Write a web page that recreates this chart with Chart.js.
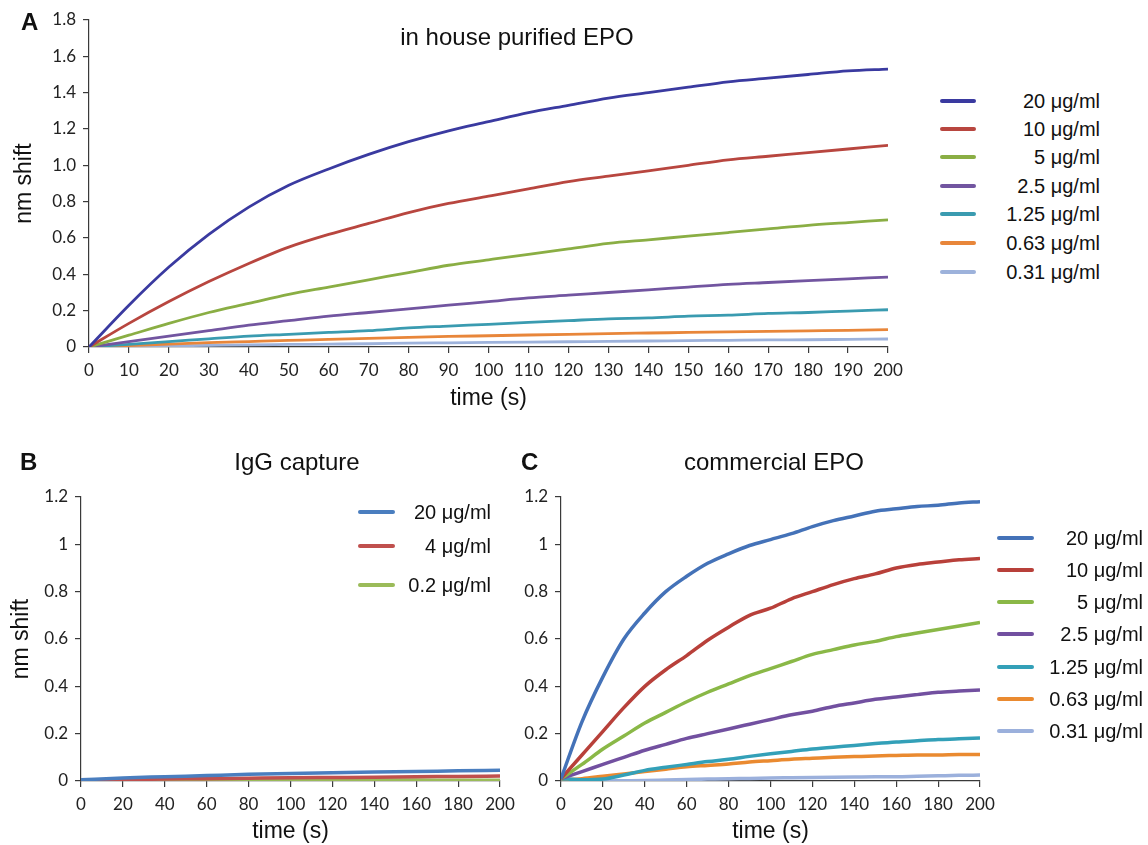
<!DOCTYPE html>
<html>
<head>
<meta charset="utf-8">
<script src="https://cdn.jsdelivr.net/npm/chart.js@4"></script>
<style>
  html,body{margin:0;padding:0;background:#fff;}
  body{width:1148px;height:845px;position:relative;overflow:hidden;font-family:"Liberation Sans",Arial,sans-serif;color:#111;}
  canvas{position:absolute;}
  .txt{position:absolute;white-space:nowrap;line-height:1;}
  .letter{font-weight:bold;font-size:24px;}
  .ttl{font-size:24px;transform:translate(-50%,-50%);}
  .leg{position:absolute;}
  .leg .row{position:absolute;left:0;right:0;height:24px;}
  .leg .ln{position:absolute;left:0;top:50%;border-radius:2px;}
  .leg .lb{position:absolute;right:0;top:50%;transform:translateY(-50%);font-size:20px;white-space:nowrap;}
</style>
</head>
<body>
<canvas id="cA" width="910" height="420" style="left:0;top:0;width:910px;height:420px"></canvas>
<canvas id="cB" width="525" height="415" style="left:0;top:430px;width:525px;height:415px"></canvas>
<canvas id="cC" width="500" height="415" style="left:505px;top:430px;width:500px;height:415px"></canvas>

<div class="txt letter" style="left:21px;top:10px">A</div>
<div class="txt letter" style="left:20px;top:450px">B</div>
<div class="txt letter" style="left:521px;top:450px">C</div>
<div class="txt ttl" style="left:517px;top:37px">in house purified EPO</div>
<div class="txt ttl" style="left:297px;top:462px">IgG capture</div>
<div class="txt ttl" style="left:774px;top:462px">commercial EPO</div>

<div id="legA" class="leg" style="left:940px;top:0;width:160px;height:300px"></div>
<div id="legB" class="leg" style="left:358px;top:0;width:133px;height:600px"></div>
<div id="legC" class="leg" style="left:997px;top:0;width:146px;height:760px"></div>

<script>
// ---------- DATA ----------
const timeA = [0,10,20,30,40,50,60,70,80,90,100,110,120,130,140,150,160,170,180,190,200];
const labelsA = ['20 μg/ml','10 μg/ml','5 μg/ml','2.5 μg/ml','1.25 μg/ml','0.63 μg/ml','0.31 μg/ml'];
const a20   = [0,0.23,0.44,0.62,0.77,0.89,0.98,1.06,1.13,1.19,1.24,1.29,1.33,1.37,1.40,1.43,1.46,1.48,1.50,1.52,1.53];
const a10   = [0,0.13,0.25,0.36,0.46,0.55,0.62,0.68,0.74,0.79,0.83,0.87,0.91,0.94,0.97,1.00,1.03,1.05,1.07,1.09,1.11];
const a5    = [0,0.065,0.13,0.19,0.24,0.29,0.33,0.37,0.41,0.45,0.48,0.51,0.54,0.57,0.59,0.61,0.63,0.65,0.67,0.685,0.70];
const a2_5  = [0,0.03,0.06,0.09,0.12,0.145,0.17,0.19,0.21,0.23,0.25,0.27,0.285,0.30,0.315,0.33,0.345,0.355,0.365,0.375,0.385];
const a1_25 = [0,0.015,0.03,0.045,0.06,0.07,0.08,0.09,0.105,0.115,0.125,0.135,0.145,0.155,0.16,0.17,0.175,0.185,0.19,0.198,0.205];
const a0_63 = [0,0.008,0.016,0.024,0.03,0.036,0.042,0.047,0.053,0.058,0.062,0.066,0.070,0.074,0.077,0.080,0.083,0.086,0.089,0.092,0.096];
const a0_31 = [0,0.003,0.006,0.009,0.012,0.014,0.016,0.018,0.021,0.023,0.025,0.027,0.029,0.031,0.033,0.035,0.037,0.039,0.040,0.042,0.044];

const timeB = [0,20,40,60,80,100,120,140,160,180,200];
const labelsB = ['20 μg/ml','4 μg/ml','0.2 μg/ml'];
const b20 = [0.005,0.013,0.018,0.023,0.028,0.032,0.035,0.038,0.040,0.043,0.045];
const b4  = [0.003,0.006,0.008,0.010,0.012,0.014,0.015,0.016,0.018,0.019,0.021];
const b02 = [0.002,0.003,0.004,0.004,0.004,0.004,0.004,0.004,0.004,0.003,0.003];

const timeC = [0,10,20,30,40,50,60,70,80,90,100,110,120,130,140,150,160,170,180,190,200];
const labelsC = ['20 μg/ml','10 μg/ml','5 μg/ml','2.5 μg/ml','1.25 μg/ml','0.63 μg/ml','0.31 μg/ml'];
const c20   = [0.01,0.25,0.44,0.60,0.71,0.80,0.865,0.92,0.96,0.995,1.02,1.045,1.075,1.10,1.12,1.14,1.15,1.16,1.165,1.175,1.18];
const c10   = [0.01,0.11,0.21,0.31,0.40,0.47,0.53,0.595,0.65,0.70,0.73,0.77,0.80,0.83,0.855,0.875,0.90,0.915,0.925,0.935,0.94];
const c5    = [0.01,0.07,0.135,0.19,0.245,0.29,0.335,0.375,0.41,0.445,0.475,0.505,0.535,0.555,0.575,0.59,0.61,0.625,0.64,0.655,0.67];
const c2_5  = [0.01,0.04,0.07,0.10,0.13,0.155,0.18,0.20,0.22,0.24,0.26,0.28,0.295,0.315,0.33,0.345,0.355,0.365,0.375,0.38,0.385];
const c1_25 = [0.01,0.005,0.008,0.025,0.045,0.058,0.07,0.082,0.092,0.104,0.115,0.125,0.135,0.143,0.15,0.158,0.165,0.17,0.175,0.178,0.182];
const c0_63 = [0.005,0.01,0.02,0.03,0.04,0.05,0.06,0.066,0.072,0.08,0.086,0.092,0.096,0.1,0.103,0.106,0.108,0.11,0.11,0.112,0.112];
const c0_31 = [0.005,0.0,0.0,0.001,0.002,0.004,0.006,0.008,0.01,0.011,0.013,0.014,0.015,0.016,0.017,0.018,0.018,0.02,0.022,0.024,0.025];

// ---------- STYLE ----------
const colA = ['#3a3aa0','#b8463f','#8aae44','#7255a0','#3a9bb0','#e8863a','#9db2db'];
const colB = ['#4a7ebf','#c0504d','#9bbb59'];
const colC = ['#4472b8','#b8403a','#8ab847','#7250a0','#33a0b8','#ea8a30','#9bb0dc'];

Chart.defaults.font.family = 'Lato, "Open Sans", sans-serif';
Chart.defaults.color = '#222';

function pts(t, v){ return t.map((x,i)=>({x:x, y:v[i]})); }
function mkSets(t, arrs, labels, cols, w){
  return arrs.map((v,i)=>({label:labels[i], data:pts(t,v), borderColor:cols[i], backgroundColor:cols[i],
    borderWidth:w, pointRadius:0, fill:false, cubicInterpolationMode:'monotone'}));
}
function axisCommon(){
  return {
    border:{display:true,color:'#3a3a3a',width:1.2},
    grid:{drawOnChartArea:false,drawTicks:true,tickLength:6,color:'#3a3a3a',lineWidth:1.2},
  };
}
function mkChart(id, datasets, o){
  const x = Object.assign(axisCommon(), {
    type:'linear', min:0, max:200,
    ticks:{stepSize:o.xStep, padding:7, font:{size:17}, color:'#222', maxRotation:0, autoSkip:false},
    title:{display:true, text:'time (s)', font:{family:'"Liberation Sans", Arial, sans-serif', size:23}, color:'#111', padding:{top:0,bottom:o.xTitlePad}},
    afterFit:(s)=>{ s.height = o.xH; }
  });
  const y = Object.assign(axisCommon(), {
    type:'linear', min:0, max:o.yMax,
    ticks:{stepSize:0.2, padding:7, font:{size:17}, color:'#222', callback:o.yFmt},
    title:{display:o.yTitle, text:'nm shift', font:{family:'"Liberation Sans", Arial, sans-serif', size:23}, color:'#111', padding:{top:o.yTitlePad,bottom:0}},
    afterFit:(s)=>{ s.width = o.yW; }
  });
  return new Chart(document.getElementById(id), {
    type:'line',
    data:{datasets},
    options:{
      responsive:false, animation:false, devicePixelRatio:1,
      layout:{padding:{left:0,top:o.padTop,right:o.padRight,bottom:0}},
      plugins:{legend:{display:false}, tooltip:{enabled:false}, title:{display:false}},
      scales:{x, y}
    }
  });
}

const fmtA = (v)=> Math.abs(v) < 1e-9 ? '0' : (Math.round(v*10)/10).toFixed(1);
const fmtBC = (v)=> String(Math.round(v*10)/10);

mkChart('cA', mkSets(timeA,[a20,a10,a5,a2_5,a1_25,a0_63,a0_31],labelsA,colA,2.8), {
  xStep:10, xH:73, xTitlePad:8, yMax:1.8, yW:89, yTitle:true, yTitlePad:11, padTop:20, padRight:22,
  yFmt:fmtA
});
mkChart('cB', mkSets(timeB,[b20,b4,b02],labelsB,colB,3.5), {
  xStep:20, xH:64, xTitlePad:0, yMax:1.2, yW:81, yTitle:true, yTitlePad:8, padTop:67, padRight:25,
  yFmt:fmtBC
});
mkChart('cC', mkSets(timeC,[c20,c10,c5,c2_5,c1_25,c0_63,c0_31],labelsC,colC,3.5), {
  xStep:20, xH:64, xTitlePad:0, yMax:1.2, yW:56, yTitle:false, yTitlePad:0, padTop:67, padRight:25,
  yFmt:fmtBC
});

// ---------- LEGENDS (HTML) ----------
function legend(id, labels, cols, ys, lineW, thick){
  const el = document.getElementById(id);
  labels.forEach((l,i)=>{
    const r = document.createElement('div'); r.className='row'; r.style.top=(ys[i]-12)+'px';
    const ln = document.createElement('div'); ln.className='ln';
    ln.style.width=lineW+'px'; ln.style.height=thick+'px'; ln.style.marginTop=(-thick/2)+'px'; ln.style.background=cols[i];
    const lb = document.createElement('div'); lb.className='lb'; lb.textContent=l;
    r.appendChild(ln); r.appendChild(lb); el.appendChild(r);
  });
}
legend('legA', labelsA, colA, [101,129,157,186,214,243,272], 36, 3.5);
legend('legB', labelsB, colB, [512,546,585], 37, 4);
legend('legC', labelsC, colC, [538,570,602,634,667,699,731], 37, 4.5);
</script>
</body>
</html>
